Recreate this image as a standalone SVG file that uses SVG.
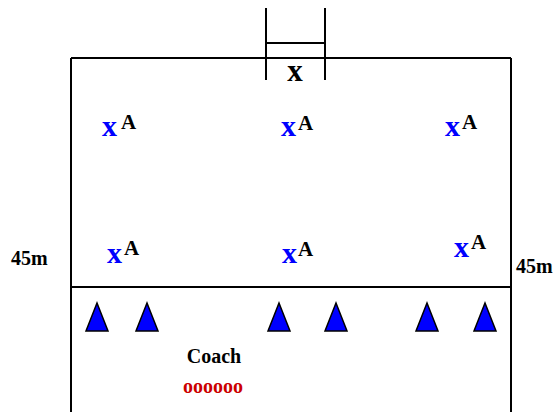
<svg xmlns="http://www.w3.org/2000/svg" width="558" height="412" viewBox="0 0 558 412">
<style>
.ln{stroke:#000;stroke-width:2;fill:none}
text{font-family:'Liberation Serif','DejaVu Serif',serif;font-weight:bold}
.px{fill:#0000ff;font-size:30px}
.pa{fill:#000;font-size:21px}
.cone{fill:#0000ff;stroke:#000;stroke-width:1.5;stroke-linejoin:miter}
</style>
<rect width="558" height="412" fill="#fff"/>
<g id="connectors">
<line class="ln" x1="71" y1="58" x2="511" y2="58"/>
<line class="ln" x1="71" y1="58" x2="71" y2="412"/>
<line class="ln" x1="511" y1="58" x2="511" y2="412"/>
<line class="ln" x1="71" y1="287" x2="511" y2="287"/>
</g>
<g id="goal">
<line class="ln" x1="266" y1="8" x2="266" y2="80"/>
<line class="ln" x1="325" y1="8" x2="325" y2="80"/>
<line class="ln" x1="266" y1="43" x2="325" y2="43"/>
<text x="295" y="81" font-size="31" text-anchor="middle">x</text>
</g>
<g id="p1"><text class="px" x="102" y="136">x</text><text class="pa" x="121" y="129">A</text></g>
<g id="p2"><text class="px" x="281" y="136">x</text><text class="pa" x="298" y="130">A</text></g>
<g id="p3"><text class="px" x="445" y="136">x</text><text class="pa" x="462" y="129">A</text></g>
<g id="p4"><text class="px" x="107" y="263">x</text><text class="pa" x="124" y="255">A</text></g>
<g id="p5"><text class="px" x="282" y="263">x</text><text class="pa" x="298" y="256">A</text></g>
<g id="p6"><text class="px" x="454" y="257">x</text><text class="pa" x="471" y="249">A</text></g>
<g id="label-left"><text x="11" y="265" font-size="20">45m</text></g>
<g id="label-right"><text x="516" y="273" font-size="20">45m</text></g>
<g id="cones">
<polygon class="cone" points="97,303 86,331 108,331"/>
<polygon class="cone" points="147,303 136,331 158,331"/>
<polygon class="cone" points="279,303 268,331 290,331"/>
<polygon class="cone" points="336,303 325,331 347,331"/>
<polygon class="cone" points="427,303 416,331 438,331"/>
<polygon class="cone" points="485,303 474,331 496,331"/>
</g>
<g id="coach">
<text x="214" y="363" font-size="20" text-anchor="middle">Coach</text>
<text x="213" y="393" font-size="20" fill="#cc0000" text-anchor="middle">oooooo</text>
</g>
</svg>
